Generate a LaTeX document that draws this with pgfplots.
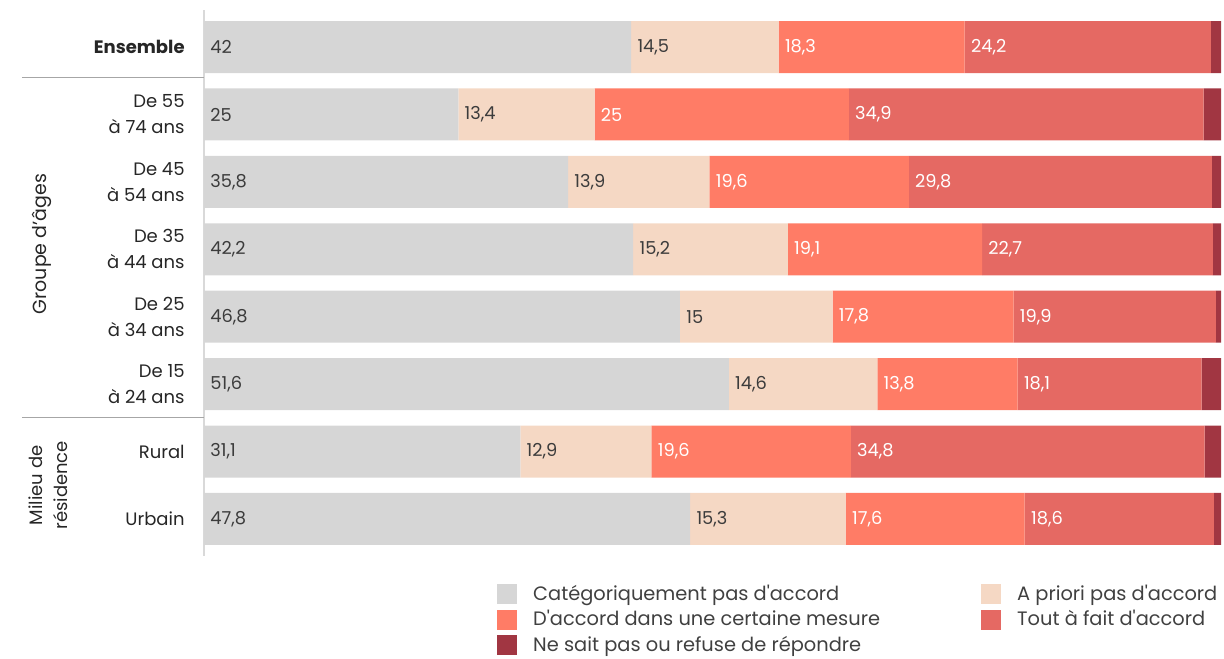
\documentclass[border=0pt]{standalone}
\usepackage{pgfplots}
\pgfplotsset{compat=1.18}
\usepackage{pgfplotstable}
\usepackage{fontspec}
\newfontfamily\pf{Poppins}

\definecolor{cgray}{HTML}{D6D6D6}
\definecolor{cpeach}{HTML}{F5D8C4}
\definecolor{corange}{HTML}{FF7C66}
\definecolor{cred}{HTML}{E56963}
\definecolor{cdark}{HTML}{A13642}
\definecolor{labdark}{HTML}{3C3C3C}
\definecolor{axline}{HTML}{D9D9D9}
\definecolor{sepline}{HTML}{A6A6A6}

% rows: 0 = Ensemble ... 7 = Urbain
\pgfplotstableread{
row cat apriori mesure tout nsp
0 42   14.5 18.3 24.2 1.0
1 25   13.4 25   34.9 1.7
2 35.8 13.9 19.6 29.8 0.9
3 42.2 15.2 19.1 22.7 0.8
4 46.8 15   17.8 19.9 0.5
5 51.6 14.6 13.8 18.1 1.9
6 31.1 12.9 19.6 34.8 1.6
7 47.8 15.3 17.6 18.6 0.7
}\data

% stacked labels sit at the segment middle: move them to its left end
\pgfplotsset{
  vallab/.style={
    nodes near coords,
    point meta=rawx,
    visualization depends on={rawx \as \rawx},
    every node near coord/.append style={
      anchor=west, inner sep=0pt,
      xshift={3pt-2.5425pt*\rawx},
      font=\fontsize{8.9}{9}\selectfont, text=#1},
  },
}

\begin{document}
\pf
\begin{tikzpicture}
\useasboundingbox (0,0) rectangle (612pt,-329pt);
\begin{axis}[
  at={(102pt,-5pt)}, anchor=north west,
  scale only axis,
  width=508.5pt, height=273pt,
  xbar stacked,
  bar width=26pt,
  xmin=0, xmax=100,
  ymin=-0.55, ymax=7.55,
  y dir=reverse,
  axis x line=none,
  axis y line*=left,
  y axis line style={draw=axline, line width=1pt, -},
  ytick={0,...,7},
  yticklabels={{\textbf{Ensemble}},{De 55\\à 74 ans},{De 45\\à 54 ans},{De 35\\à 44 ans},{De 25\\à 34 ans},{De 15\\à 24 ans},{Rural},{Urbain}},
  ytick style={draw=none},
  yticklabel style={align=right, inner sep=0pt, xshift=-9.5pt, font=\fontsize{9}{13}\selectfont, text=black!85},
  /pgf/number format/.cd, use comma, fixed, precision=1, assume math mode=true, /pgfplots/.cd,
  clip=false,
  legend columns=2,
  legend cell align=left,
  legend image code/.code={\fill[#1] (0pt,-5pt) rectangle (10pt,5pt);},
  legend style={draw=none, fill=none, at={(0.282,-0.037)}, anchor=north west,
    font=\fontsize{9.7}{10}\selectfont, text=black!75, row sep=-0.3pt,
    /tikz/every odd column/.append style={column sep=6pt}},
]
\addplot[fill=cgray, draw=none, vallab=labdark] table[x=cat, y=row] {\data};
\addplot[fill=cpeach, draw=none, vallab=labdark] table[x=apriori, y=row] {\data};
\addplot[fill=corange, draw=none, vallab=white] table[x=mesure, y=row] {\data};
\addplot[fill=cred, draw=none, vallab=white] table[x=tout, y=row] {\data};
\addplot[fill=cdark, draw=none] table[x=nsp, y=row] {\data};
\addlegendentry{\makebox[222pt][l]{Catégoriquement pas d'accord}}
\addlegendentry{A priori pas d'accord}
\addlegendentry{\makebox[222pt][l]{D'accord dans une certaine mesure}}
\addlegendentry{Tout à fait d'accord}
\addlegendentry{Ne sait pas ou refuse de répondre}

\draw[sepline, line width=0.6pt] ([xshift=-91pt]axis cs:0,0.45) -- (axis cs:0,0.45);
\draw[sepline, line width=0.6pt] ([xshift=-91pt]axis cs:0,5.5) -- (axis cs:0,5.5);
\node[rotate=90, font=\fontsize{9.5}{12}\selectfont, text=black!85] at ([xshift=-81pt]axis cs:0,2.92) {Groupe d’âges};
\node[rotate=90, align=center, font=\fontsize{9}{12.5}\selectfont, text=black!85] at ([xshift=-78pt]axis cs:0,6.5) {Milieu de\\résidence};
\end{axis}
\end{tikzpicture}
\end{document}
